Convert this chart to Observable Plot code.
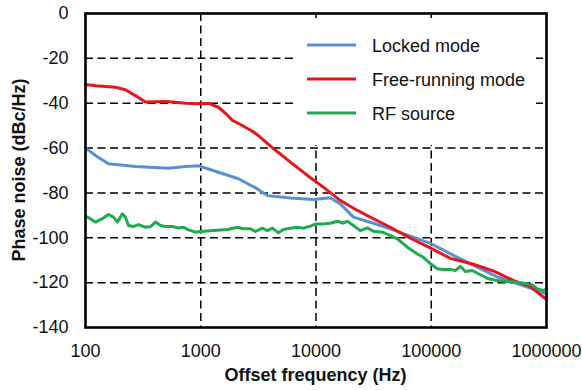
<!DOCTYPE html>
<html><head><meta charset="utf-8">
<script src="https://cdn.jsdelivr.net/npm/d3@7"></script>
<script src="https://cdn.jsdelivr.net/npm/@observablehq/plot@0.6"></script>
<style>body{margin:0;background:#fff} svg{display:block}</style>
</head><body><div id="chart"></div>
<script>
// Series names and colors
const seriesNames = ["Locked mode", "Free-running mode", "RF source"];
const seriesColors = ["#5b8fd3", "#e8141b", "#1faa50"];

// Tick values
const xTicks = [100, 1000, 10000, 100000, 1000000];
const yTicks = [0, -20, -40, -60, -80, -100, -120, -140];
const xGrid = [1000, 10000, 100000];
const yGrid = [-20, -40, -60, -80, -100, -120];

// Locked mode (blue)
const lockedFreq = [100, 122, 158, 271, 525, 737, 955, 1424, 2123, 3104, 3788, 5998, 9490, 13330, 16290, 21100, 31470, 44170, 98000, 189900, 374300, 1000000];
const lockedNoise = [-59.9, -63.3, -67, -68.2, -69, -68.2, -67.9, -70.8, -73.7, -78.2, -81.2, -82.3, -82.9, -82.2, -84.9, -90.8, -93.5, -96, -102.5, -110.1, -117.4, -125];

// Free-running mode (red)
const freeFreq = [100, 122, 182, 222, 271, 331, 405, 494, 603, 737, 955, 1166, 1424, 1638, 1884, 2210, 2808, 3296, 4272, 5998, 8420, 11580, 16290, 22860, 31470, 44170, 65870, 98000, 146400, 231800, 345600, 515000, 723700, 1000000];
const freeNoise = [-31.7, -32.2, -32.9, -34, -36.6, -39.5, -39.3, -39.2, -39.6, -40, -40.2, -40.1, -41.8, -44.5, -47.7, -49.5, -52.5, -55.2, -60.2, -66.3, -72.2, -77.4, -83.4, -87.8, -91.5, -95.3, -100.2, -104.5, -109.2, -111.8, -114.8, -119, -121.8, -127.5];

// RF source (green)
const rfFreq = [100, 110, 122, 140, 158, 175, 190, 209, 222, 236, 261, 288, 331, 366, 405, 447, 494, 568, 641, 708, 782, 900, 1000, 1289, 1704, 2082, 2346, 2698, 2981, 3429, 3789, 4188, 4721, 5217, 5998, 6898, 7776, 8942, 10000, 11590, 13330, 15330, 17280, 18730, 21100, 24280, 27920, 31470, 37670, 44190, 50820, 62040, 75760, 85400, 100000, 113000, 127300, 146400, 161800, 178800, 197600, 227300, 266700, 312800, 374400, 457100, 558200, 681600, 753300, 832200, 938000, 1000000];
const rfNoise = [-90.5, -91.5, -93, -91.5, -89.6, -90.8, -93, -89.3, -90.8, -94.5, -95, -94.1, -95.3, -95, -93, -94.5, -95, -95, -95.6, -95.3, -96.5, -97.5, -97.2, -96.8, -96.3, -95.3, -96, -96, -97.2, -95.7, -96.8, -95.7, -97.8, -96.3, -95.7, -95.3, -95.7, -94.8, -93.8, -93.8, -93.5, -92.6, -93.5, -92.6, -94.5, -96.8, -95.6, -97.1, -97.5, -99, -100.5, -104.2, -107.2, -108.7, -111.8, -113.8, -114.1, -114.1, -114.6, -112.7, -115, -114.6, -116.5, -118.3, -119, -119.5, -119.8, -120.5, -121, -122.8, -123.5, -123];

const toRows = (fs, vs) => fs.map((f, i) => ({f, v: vs[i]}));
const locked = toRows(lockedFreq, lockedNoise);
const free = toRows(freeFreq, freeNoise);
const rf = toRows(rfFreq, rfNoise);

const W = 582, H = 390, ML = 85, MR = 36, MT = 13, MB = 63;
const font = "'Liberation Sans', Arial, sans-serif";
const lineOpts = {x: "f", y: "v", strokeWidth: 3, strokeLinejoin: "round", strokeLinecap: "round"};

const svg = Plot.plot({
  width: W, height: H,
  marginLeft: ML, marginRight: MR, marginTop: MT, marginBottom: MB,
  style: {fontFamily: font, fontSize: "18px", color: "#111", background: "#fff", overflow: "visible"},
  x: {type: "log", domain: [100, 1000000]},
  y: {domain: [-140, 0]},
  marks: [
    Plot.ruleX(xGrid, {stroke: "#000", strokeWidth: 1.5, strokeDasharray: "8,4.5"}),
    Plot.ruleY(yGrid, {stroke: "#000", strokeWidth: 1.5, strokeDasharray: "8,4.5"}),
    Plot.line(locked, {...lineOpts, stroke: seriesColors[0]}),
    Plot.line(free, {...lineOpts, stroke: seriesColors[1]}),
    Plot.line(rf, {...lineOpts, stroke: seriesColors[2]}),
    Plot.frame({stroke: "#000", strokeWidth: 2.6}),
    Plot.axisX({ticks: xTicks, tickSize: 0, tickPadding: 17, tickFormat: d => String(d), label: null}),
    Plot.axisY({ticks: yTicks, tickSize: 0, tickPadding: 17, tickFormat: d => String(d), label: null})
  ]
});

const s = d3.select(svg);
// Axis titles
s.append("text").attr("x", (ML + W - MR) / 2).attr("y", 381)
  .attr("text-anchor", "middle").attr("font-weight", "bold").attr("font-size", 18)
  .attr("fill", "#111").attr("font-family", font).text("Offset frequency (Hz)");
s.append("text").attr("transform", `translate(25,${(MT + H - MB) / 2}) rotate(-90)`)
  .attr("text-anchor", "middle").attr("font-weight", "bold").attr("font-size", 18)
  .attr("fill", "#111").attr("font-family", font).text("Phase noise (dBc/Hz)");

// Legend
const lg = s.append("g");
lg.append("rect").attr("x", 295).attr("y", 18).attr("width", 241).attr("height", 127).attr("fill", "#fff");
seriesNames.forEach((name, i) => {
  const cy = 45 + i * 34;
  lg.append("line").attr("x1", 307).attr("x2", 356).attr("y1", cy).attr("y2", cy)
    .attr("stroke", seriesColors[i]).attr("stroke-width", 3);
  lg.append("text").attr("x", 372).attr("y", cy + 7).attr("font-size", 18)
    .attr("text-anchor", "start")
    .attr("fill", "#111").attr("font-family", font).text(name);
});

document.getElementById("chart").appendChild(svg);
</script>
</body></html>
